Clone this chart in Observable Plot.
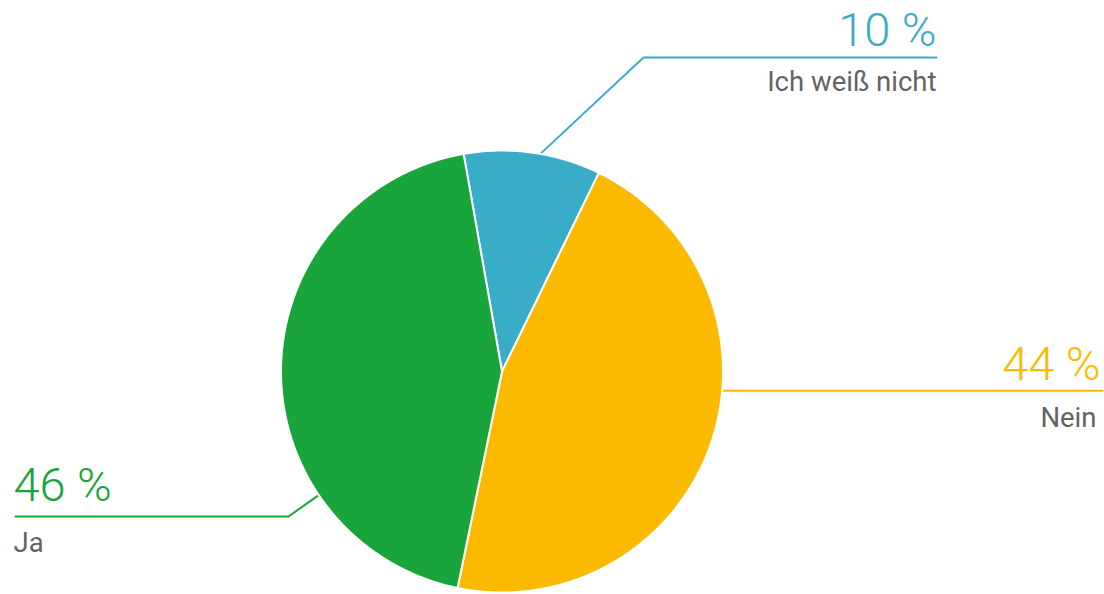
<!DOCTYPE html>
<html>
<head>
<meta charset="utf-8">
<script src="https://cdn.jsdelivr.net/npm/d3@7"></script>
<script src="https://cdn.jsdelivr.net/npm/@observablehq/plot@0.6"></script>
<style>
  html, body { margin: 0; padding: 0; background: #ffffff; }
  #chart svg { display: block; }
</style>
</head>
<body>
<div id="chart"></div>
<script>
// ---- data ----
const categories = ["Ich weiß nicht", "Nein", "Ja"];
const sliceShares = [10, 46, 44];          // wedge sizes as drawn (percent)
const pctLabels = ["10 %", "44 %", "46 %"]; // printed percentages
const colors = ["#39acc8", "#fbba00", "#19a53b"];
const startAngle = -10;                    // degrees, clockwise from top
const leaderAngles = [10, 95, 236];        // where each leader meets the pie

// ---- layout (pixels) ----
const W = 1104, H = 594;
const cx = 501.5, cy = 371, r = 221;
const labelLayout = [
  {elbow: [643, 57], endX: 936, anchor: "end", pctY: 45, nameY: 90, pctX: 936, nameX: 936},
  {elbow: null, endX: 1102, anchor: "end", pctY: 379, nameY: 426, pctX: 1100, nameX: 1096},
  {elbow: [288, 516], endX: 15, anchor: "start", pctY: 500, nameY: 551, pctX: 13, nameX: 13}
];

const pt = (deg, rad = r) => {
  const a = deg * Math.PI / 180;
  return {x: cx + rad * Math.sin(a), y: cy - rad * Math.cos(a)};
};

const total = d3.sum(sliceShares);
let acc = startAngle;
const slices = categories.map((c, i) => {
  const a0 = acc, a1 = acc + sliceShares[i] / total * 360;
  acc = a1;
  const pts = [{x: cx, y: cy}];
  const n = Math.max(2, Math.ceil(a1 - a0) * 2);
  for (let k = 0; k <= n; k++) pts.push(pt(a0 + (a1 - a0) * k / n));
  pts.push({x: cx, y: cy});
  return {name: c, color: colors[i], pts};
});

const leaders = categories.map((c, i) => {
  const L = labelLayout[i];
  const p0 = pt(leaderAngles[i]);
  const pts = [p0];
  if (L.elbow) pts.push({x: L.elbow[0], y: L.elbow[1]});
  const lastY = L.elbow ? L.elbow[1] : p0.y;
  pts.push({x: L.endX, y: lastY});
  return {color: colors[i], pts};
});

const texts = [];
categories.forEach((c, i) => {
  const L = labelLayout[i];
  texts.push({x: L.pctX, y: L.pctY, text: pctLabels[i], color: colors[i], size: 47, weight: 300, anchor: L.anchor});
  texts.push({x: L.nameX, y: L.nameY, text: c, color: "#646464", size: 27.5, weight: 400, anchor: L.anchor});
});

const marks = [];
leaders.forEach(l => marks.push(Plot.line(l.pts, {x: "x", y: "y", stroke: l.color, strokeWidth: 2, curve: "linear"})));
slices.forEach(s => marks.push(Plot.line(s.pts, {x: "x", y: "y", fill: s.color, stroke: "white", strokeWidth: 2, strokeLinejoin: "round", curve: "linear"})));
["start", "end"].forEach(anchor => {
  const sub = texts.filter(t => t.anchor === anchor);
  [300, 400].forEach(w => {
    const s2 = sub.filter(t => t.weight === w);
    if (!s2.length) return;
    const size = s2[0].size;
    marks.push(Plot.text(s2, {x: "x", y: "y", text: "text", fill: "color", fontSize: size, fontWeight: w, textAnchor: anchor, lineAnchor: "bottom"}));
  });
});

const chart = Plot.plot({
  width: W, height: H, margin: 0,
  x: {domain: [0, W], range: [0, W], axis: null},
  y: {domain: [0, H], range: [0, H], axis: null},
  color: {type: "identity"},
  style: {fontFamily: "Roboto, 'Noto Sans', sans-serif", background: "white"},
  marks
});
document.getElementById("chart").appendChild(chart);
</script>
</body>
</html>
